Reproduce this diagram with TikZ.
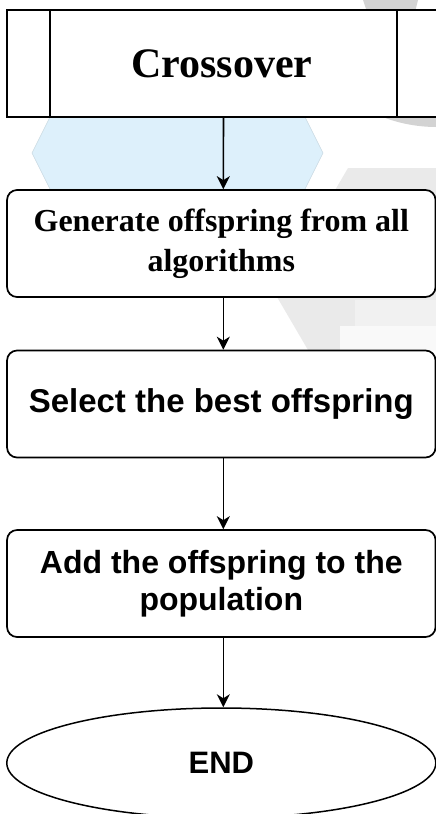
\documentclass[tikz,border=0pt]{standalone}
\usepackage{fontspec}
\setmainfont{Liberation Serif}
\newfontfamily\arialfont{Liberation Sans}
\usetikzlibrary{shapes.geometric,arrows.meta}
\definecolor{hexblue}{HTML}{DDF0FB}
\definecolor{hexedge}{HTML}{C9D9E2}
\definecolor{wmgray}{HTML}{EAEAEA}
\definecolor{wmdark}{HTML}{D3D3D3}
\definecolor{wmlight}{HTML}{F1F1F1}
\begin{document}
\begin{tikzpicture}[x=1pt,y=-1pt,
  procbox/.style={draw=black,line width=1.7pt,rounded corners=10pt,minimum width=428.5pt,
    minimum height=107pt,fill=white,inner sep=0pt,align=center},
  serifbox/.style={procbox,font=\fontsize{32}{40}\selectfont\bfseries},
  sansbox/.style={procbox,font=\fontsize{33}{37}\selectfont\arialfont\bfseries},
  link/.style={line width=1.6pt,-{Stealth[length=13pt,width=13pt,inset=4pt]}}]
\useasboundingbox (0,0) rectangle (436,814);
\clip (0,0) rectangle (436,814);
% watermark background
\fill[wmdark] (363,0) -- (418,0) -- (415,12) -- (367,12) -- cycle;
\fill[wmdark] (383,117) .. controls (400,124) and (420,127) .. (436,127) -- (436,117) -- cycle;
\fill[wmgray] (348,168) -- (436,168) -- (436,350) -- (308,350) -- (277,297) -- (300,250) -- cycle;
\fill[wmlight] (355,300) rectangle (436,350);
\fill[white!60!wmlight] (340,326) rectangle (436,350);
\fill[hexblue, draw=hexedge, line width=0.5pt] (32,153) -- (50,117) -- (305,117) -- (323,153) -- (305,189) -- (50,189) -- cycle;
% nodes
\node[draw=black,line width=1.7pt,fill=white,minimum width=430pt,minimum height=107pt,inner sep=0pt,
  font=\fontsize{42}{48}\selectfont\bfseries] (cross) at (222,63.5) {Crossover};
\draw[line width=1.7pt] ([xshift=44pt]cross.north west) -- ([xshift=44pt]cross.south west);
\draw[line width=1.7pt] ([xshift=-41pt]cross.north east) -- ([xshift=-41pt]cross.south east);
\node[serifbox] (gen) at (221.3,243.5) {Generate offspring from all\\algorithms};
\node[sansbox] (sel) at (221.3,404) {Select the best offspring};
\node[sansbox, font=\fontsize{32}{37}\selectfont\arialfont\bfseries] (add) at (221.3,583.5) {Add the offspring to the\\population};
\node[draw=black,line width=1.5pt,ellipse,fill=white,minimum width=429pt,minimum height=110pt,inner sep=0pt,
  font=\fontsize{31}{37}\selectfont\arialfont\bfseries] (end) at (221.3,763) {END};
% connectors
\draw[link] ([xshift=1.5pt]cross.south) -- ([xshift=2pt]gen.north);
\draw[link] ([xshift=2pt]gen.south) -- ([xshift=2pt]sel.north);
\draw[link] ([xshift=2pt]sel.south) -- ([xshift=2pt]add.north);
\draw[link] ([xshift=2pt]add.south) -- ([xshift=2pt]end.north);
\end{tikzpicture}
\end{document}
